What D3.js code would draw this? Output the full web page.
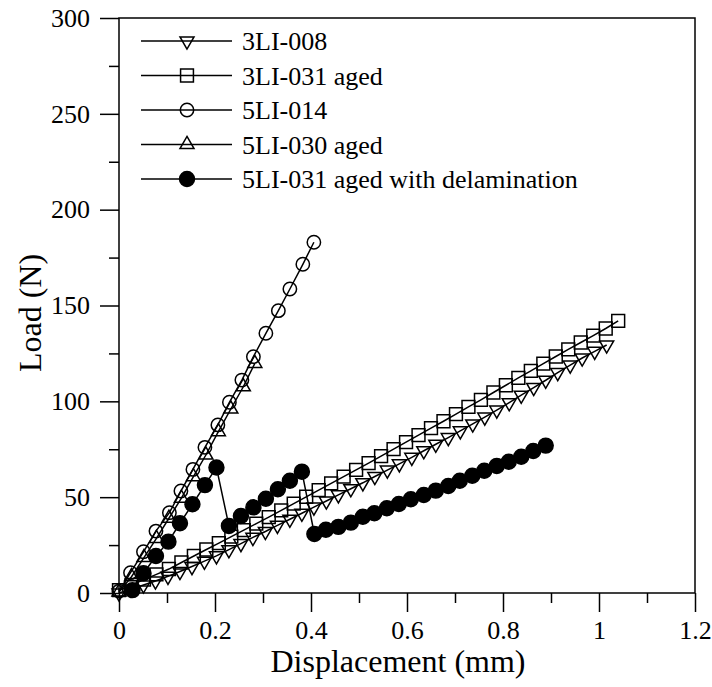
<!DOCTYPE html>
<html>
<head>
<meta charset="utf-8">
<script src="https://cdn.jsdelivr.net/npm/d3@7"></script>
<style>
  body { margin: 0; background: #fff; }
  svg { display: block; }
  svg text { font-family: "Liberation Serif", serif; fill: #000; }
</style>
</head>
<body>
<svg id="chart" width="712" height="687"></svg>
<script>
// series values: displacement (mm) / load (N)
const x3LI008 = [0, 0.025, 0.051, 0.076, 0.102, 0.127, 0.152, 0.178, 0.203, 0.229, 0.254, 0.279, 0.305, 0.330, 0.356, 0.381, 0.406, 0.432, 0.457, 0.483, 0.508, 0.533, 0.559, 0.584, 0.610, 0.635, 0.660, 0.686, 0.711, 0.737, 0.762, 0.787, 0.813, 0.838, 0.864, 0.889, 0.914, 0.940, 0.965, 0.991, 1.016];
const y3LI008 = [0, 2, 4.2, 6.3, 8.7, 11.2, 13.8, 16.6, 19.4, 22.6, 25.8, 29, 32.1, 35.3, 38.5, 41.6, 44.8, 48, 51.2, 54.4, 57.5, 60.8, 64.1, 67.4, 70.8, 74.2, 77.6, 81.1, 84.6, 88.2, 91.8, 95.4, 99.3, 103.2, 107.2, 111, 115, 118.9, 122.6, 126.1, 129.4];

const x3LI031 = [0, 0.026, 0.052, 0.078, 0.104, 0.130, 0.156, 0.182, 0.208, 0.234, 0.260, 0.286, 0.312, 0.338, 0.364, 0.390, 0.416, 0.442, 0.468, 0.494, 0.520, 0.546, 0.572, 0.598, 0.624, 0.650, 0.676, 0.702, 0.728, 0.754, 0.780, 0.806, 0.832, 0.858, 0.884, 0.910, 0.936, 0.962, 0.988, 1.014, 1.040];
const y3LI031 = [1.5, 4.2, 7, 9.7, 12.5, 15.9, 19.3, 22.7, 26, 29.4, 32.8, 36.2, 39.6, 43.1, 46.6, 50.2, 53.7, 57.2, 60.7, 64.2, 67.8, 71.4, 75.1, 78.7, 82.4, 86, 89.6, 93.3, 97.1, 100.8, 104.6, 108.4, 112.2, 115.9, 119.7, 123.4, 127.1, 130.7, 134.3, 138, 142];

const x5LI014 = [0, 0.024, 0.051, 0.077, 0.105, 0.129, 0.154, 0.179, 0.206, 0.230, 0.256, 0.280, 0.306, 0.332, 0.356, 0.383, 0.406];
const y5LI014 = [1, 10.6, 21.5, 32.3, 41.9, 53.2, 64.5, 76, 87.7, 99.5, 111.1, 123.3, 135.5, 147.3, 158.6, 171.5, 183];

const x5LI030 = [0, 0.026, 0.052, 0.078, 0.104, 0.130, 0.155, 0.181, 0.207, 0.233, 0.259, 0.283];
const y5LI030 = [0.5, 8.5, 18.5, 28.5, 39, 49.5, 60.7, 72, 84.2, 96, 107.6, 119.8];

const x5LI031 = [0.028, 0.051, 0.077, 0.103, 0.127, 0.153, 0.179, 0.203, 0.229, 0.254, 0.280, 0.306, 0.331, 0.356, 0.381, 0.407, 0.431, 0.457, 0.483, 0.508, 0.532, 0.558, 0.583, 0.608, 0.635, 0.660, 0.686, 0.710, 0.736, 0.761, 0.787, 0.812, 0.838, 0.863, 0.889];
const y5LI031 = [1.5, 10.3, 19.3, 26.8, 36.4, 46.3, 56.3, 65.5, 35, 40.2, 44.7, 49.2, 54.1, 58.6, 63.3, 30.8, 33, 34.5, 36.7, 39.8, 41.6, 44.2, 46.4, 48.9, 51.1, 53.4, 55.8, 58.6, 61.2, 63.8, 66.3, 68.5, 71.1, 74.1, 76.9];

const seriesNames = ['3LI-008', '3LI-031 aged', '5LI-014', '5LI-030 aged', '5LI-031 aged with delamination'];
const xTicks = [0, 0.2, 0.4, 0.6, 0.8, 1, 1.2];
const yTicks = [0, 50, 100, 150, 200, 250, 300];

const svg = d3.select('#chart');
const margin = { top: 18, right: 17, bottom: 94, left: 119 };
const width = 712, height = 687;

const xScale = d3.scaleLinear().domain([0, 1.2]).range([margin.left, width - margin.right]);
const yScale = d3.scaleLinear().domain([0, 300]).range([height - margin.bottom, margin.top]);

const pair = (xs, ys) => xs.map((x, i) => ({ x: x, y: ys[i] }));

// marker drawing
const sym = {
  down: d3.symbol().type(d3.symbolTriangle).size(85),
  up: d3.symbol().type(d3.symbolTriangle).size(85),
  square: d3.symbol().type(d3.symbolSquare).size(165),
  circle: d3.symbol().type(d3.symbolCircle).size(140),
  dot: d3.symbol().type(d3.symbolCircle).size(175)
};

const series = [
  { name: seriesNames[0], data: pair(x3LI008, y3LI008), mark: 'down', fill: 'none' },
  { name: seriesNames[1], data: pair(x3LI031, y3LI031), mark: 'square', fill: 'none' },
  { name: seriesNames[2], data: pair(x5LI014, y5LI014), mark: 'circle', fill: 'none' },
  { name: seriesNames[3], data: pair(x5LI030, y5LI030), mark: 'up', fill: 'none' },
  { name: seriesNames[4], data: pair(x5LI031, y5LI031), mark: 'dot', fill: '#000' }
];

let drawMark = (g, mark, fill) => {
  g.append('path')
    .attr('d', sym[mark]())
    .attr('transform', mark === 'down' ? 'rotate(180)' : null)
    .attr('fill', fill)
    .attr('stroke', '#000')
    .attr('stroke-width', 1.5);
};

const line = d3.line().x(d => xScale(d.x)).y(d => yScale(d.y));

series.forEach(s => {
  const g = svg.append('g');
  g.append('path')
    .datum(s.data)
    .attr('d', line)
    .attr('fill', 'none')
    .attr('stroke', '#000')
    .attr('stroke-width', 1.5);
  g.selectAll('g.pt').data(s.data).enter()
    .append('g')
    .attr('class', 'pt')
    .attr('transform', d => 'translate(' + xScale(d.x) + ',' + yScale(d.y) + ')')
    .each(function () { drawMark(d3.select(this), s.mark, s.fill); });
});

// axes
const xAxis = d3.axisBottom(xScale).tickValues(xTicks).tickSize(19).tickPadding(9)
  .tickFormat(d => String(+d.toFixed(1)));
const yAxis = d3.axisLeft(yScale).tickValues(yTicks).tickSize(19).tickPadding(10);

const xMinor = d3.axisBottom(xScale).tickValues(d3.range(0.1, 1.2, 0.2)).tickSize(10).tickFormat('');
const yMinor = d3.axisLeft(yScale).tickValues(d3.range(25, 300, 50)).tickSize(10).tickFormat('');

const gx = svg.append('g').attr('transform', 'translate(0,' + (height - margin.bottom) + ')').call(xAxis);
svg.append('g').attr('transform', 'translate(0,' + (height - margin.bottom) + ')').call(xMinor);
const gy = svg.append('g').attr('transform', 'translate(' + margin.left + ',0)').call(yAxis);
svg.append('g').attr('transform', 'translate(' + margin.left + ',0)').call(yMinor);

svg.selectAll('.domain').remove();
svg.selectAll('.tick line').attr('stroke', '#000').attr('stroke-width', 1.5);
svg.selectAll('g[font-family]').attr('font-family', null);
svg.selectAll('.tick text').attr('font-size', 26);

// frame
svg.append('rect')
  .attr('x', margin.left).attr('y', margin.top)
  .attr('width', width - margin.left - margin.right)
  .attr('height', height - margin.top - margin.bottom)
  .attr('fill', 'none').attr('stroke', '#000').attr('stroke-width', 1.5);

// axis titles
svg.append('text')
  .attr('x', 398)
  .attr('y', 672)
  .attr('text-anchor', 'middle')
  .attr('font-size', 32)
  .text('Displacement (mm)');

svg.append('text')
  .attr('transform', 'translate(41,313) rotate(-90)')
  .attr('text-anchor', 'middle')
  .attr('font-size', 32)
  .text('Load (N)');

// legend
const legend = svg.append('g');
series.forEach((s, i) => {
  const ly = 41 + i * 34.5;
  const row = legend.append('g').attr('transform', 'translate(0,' + ly + ')');
  row.append('line').attr('x1', 141).attr('x2', 232).attr('y1', 0).attr('y2', 0)
    .attr('stroke', '#000').attr('stroke-width', 1.5);
  drawMark(row.append('g').attr('transform', 'translate(187,0)'), s.mark, s.mark === 'dot' ? '#000' : 'none');
  row.append('text').attr('x', 242).attr('y', 9).attr('font-size', 26).text(s.name);
});
</script>
</body>
</html>
